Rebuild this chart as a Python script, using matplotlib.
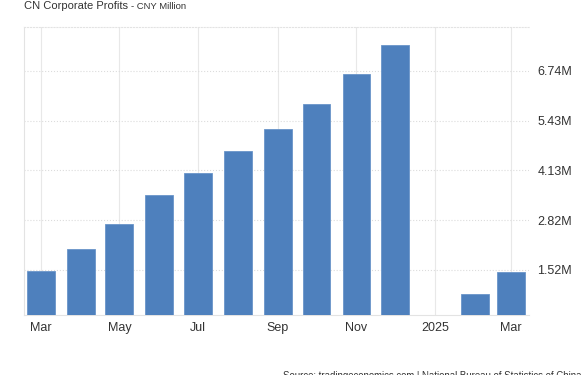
import numpy as np
import pandas as pd
import matplotlib
matplotlib.use("Agg")
import matplotlib.pyplot as plt

plt.rcParams['font.family'] = ['Liberation Sans', 'DejaVu Sans']

# year-to-date profits, million CNY (in millions)
months = ['2024-03-01', '2024-04-01', '2024-05-01', '2024-06-01', '2024-07-01',
          '2024-08-01', '2024-09-01', '2024-10-01', '2024-11-01', '2024-12-01',
          '2025-01-01', '2025-02-01', '2025-03-01']
profits = [1.49, 2.06, 2.72, 3.48, 4.06, 4.64, 5.22, 5.86, 6.65, 7.43,
           np.nan, 0.88, 1.47]
ytick_vals = [1.52, 2.82, 4.13, 5.43, 6.74]
ytick_labels = ['1.52M', '2.82M', '4.13M', '5.43M', '6.74M']
xtick_dates = ['2024-03-01', '2024-05-01', '2024-07-01', '2024-09-01',
               '2024-11-01', '2025-01-01', '2025-03-01']
xtick_labels = ['Mar', 'May', 'Jul', 'Sep', 'Nov', '2025', 'Mar']

dates = pd.to_datetime(months)
fig = plt.figure(figsize=(5.85, 3.75), dpi=100)
ax = fig.add_axes([24 / 585, 1 - 315 / 375, (529 - 24) / 585, (315 - 27) / 375])

bottom = 0.34
vals = np.array(profits)
ax.bar(dates, vals - bottom, bottom=bottom, width=21.5, color='#4e80bd',
       edgecolor='#6a95c9', linewidth=0.6, zorder=3)

ax.set_xlim(pd.Timestamp('2024-02-17'), pd.Timestamp('2025-03-15'))
ax.set_ylim(bottom, 7.89)

ax.set_xticks(pd.to_datetime(xtick_dates))
ax.set_xticklabels(xtick_labels)
ax.set_yticks(ytick_vals)
ax.set_yticklabels(ytick_labels)
ax.yaxis.tick_right()
ax.tick_params(axis='both', length=0, labelsize=9, colors='#333333')
ax.tick_params(axis='y', pad=6)
ax.tick_params(axis='x', pad=5)

ax.grid(axis='x', color='#e8e8e8', linewidth=0.8, zorder=0)
ax.grid(axis='y', color='#dcdcdc', linewidth=0.8, linestyle=':', zorder=0)

for s in ['left', 'bottom']:
    ax.spines[s].set_color('#e3e3e3')
    ax.spines[s].set_linewidth(0.8)
ax.spines['top'].set_color('#e3e3e3')
ax.spines['top'].set_linestyle(':')
ax.spines['top'].set_linewidth(0.8)
ax.spines['right'].set_visible(False)

fig.text(24 / 585, 1 - 9 / 375, 'CN Corporate Profits', fontsize=8,
         color='#333333', va='baseline', ha='left')
fig.text(131 / 585, 1 - 9 / 375, '- CNY Million', fontsize=6.8,
         color='#333333', va='baseline', ha='left')
fig.text(283 / 585, 1 - 371 / 375,
         'Source: tradingeconomics.com | National Bureau of Statistics of China',
         fontsize=6.9, color='#333333', va='top', ha='left')

fig.savefig('out.png', dpi=100)
